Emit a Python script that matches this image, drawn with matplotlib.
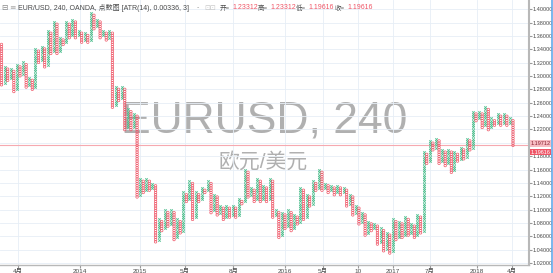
import numpy as np
import matplotlib
matplotlib.use("Agg")
import matplotlib.pyplot as plt
from matplotlib.lines import Line2D

plt.rcParams["font.family"] = ["Liberation Sans", "Noto Sans CJK SC", "DejaVu Sans"]

# 点数图参数: 格值 0.00336, 反转 3 格
box = 0.00336

# 每列的转折价 (交替: 高点 / 低点)
pivots = [
    1.3480, 1.2866, 1.3121, 1.2941, 1.3091, 1.2761, 1.3166, 1.3016, 1.3211, 1.2821,
    1.2971, 1.2791, 1.3390, 1.3196, 1.3435, 1.3121, 1.3660, 1.3345, 1.3810, 1.3345,
    1.3570, 1.3465, 1.3810, 1.3585, 1.3840, 1.3585, 1.3690, 1.3510, 1.3645, 1.3495,
    1.3945, 1.3720, 1.3840, 1.3585, 1.3690, 1.3540, 1.3690, 1.2521, 1.2821, 1.2642,
    1.2821, 1.2192, 1.2491, 1.2192, 1.2417, 1.1173, 1.1472, 1.1263, 1.1443, 1.1293,
    1.1398, 1.0514, 1.0844, 1.0694, 1.0994, 1.0754, 1.0994, 1.0544,
    1.0844, 1.0664, 1.1263, 1.1113, 1.1413, 1.0844, 1.1263, 1.1113,
    1.1338, 1.1248, 1.1413, 1.0964, 1.1218, 1.0919, 1.1068, 1.0844, 1.1068, 1.0874,
    1.1038, 1.0889, 1.1143, 1.1083, 1.1592, 1.1188, 1.1323, 1.1113, 1.1443, 1.1113,
    1.1353, 1.1113, 1.1472, 1.0874, 1.0994, 1.0574, 1.0949, 1.0724, 1.0994, 1.0694,
    1.0904, 1.0769, 1.1338, 1.0844, 1.1218, 1.1038, 1.1413, 1.1293, 1.1592, 1.1293,
    1.1383, 1.1263, 1.1353, 1.1233, 1.1368, 1.1218, 1.1323, 1.1068, 1.1218, 1.0919,
    1.1068, 1.0769, 1.0964, 1.0619, 1.0814, 1.0679, 1.0784, 1.0469, 1.0724, 1.0394,
    1.0664, 1.0364, 1.0844, 1.0544, 1.0814, 1.0574, 1.0874, 1.0619, 1.0769, 1.0574,
    1.0919, 1.0664, 1.1862, 1.1697, 1.2042, 1.1892, 1.2072, 1.1697, 1.1892, 1.1667,
    1.1892, 1.1562, 1.1847, 1.1742, 1.1922, 1.1772, 1.2072, 1.1892, 1.2461, 1.2342,
    1.2461, 1.2222, 1.2536, 1.2192, 1.2372, 1.2267, 1.2417, 1.2267, 1.2447, 1.2267,
    1.2372, 1.1962,
]

last_price = 1.19616
line_price = 1.19712
ohlc_labels = ["开=", "高=", "低=", "收="]
ohlc_values = [1.23312, 1.23312, 1.19616, 1.19616]

y_ticks = np.arange(1.02, 1.4001, 0.02)
x_tick_cols = [5.4, 25.5, 45.0, 59.6, 75.2, 92.0, 104.4, 115.7, 127.0, 139.0, 154.4, 165.7]
x_tick_labels = ["4月", "2014", "2015", "5月", "8月", "2016", "5月", "10", "2017", "7月", "2018", "4月"]

green = "#4fbf8f"
red = "#ef5566"
txt = "#4a4a4a"

W, H = 553, 273
fig = plt.figure(figsize=(W / 100, H / 100), dpi=100)
ax = fig.add_axes([0, 8 / H, 529 / W, 265 / H])

# 把转折价展开成每一格
xs_up, ys_up, xs_dn, ys_dn = [], [], [], []
for i in range(len(pivots) - 1):
    a = int(round(pivots[i] / box))
    b = int(round(pivots[i + 1] / box))
    if b > a:
        start = a + 1 if i > 0 else a
        for k in range(start, b + 1):
            xs_up.append(i)
            ys_up.append(k * box)
    else:
        start = a - 1 if i > 0 else a
        for k in range(b, start + 1):
            xs_dn.append(i)
            ys_dn.append(k * box)

ax.scatter(xs_up, ys_up, marker="x", s=3.2, c=green, linewidths=0.6, zorder=3)
ax.scatter(xs_dn, ys_dn, marker="o", s=3.2, facecolors="none", edgecolors=red,
           linewidths=0.5, zorder=3)

n = len(pivots) - 1
s = 511.5 / (n - 1)
ax.set_xlim(-1.5 / s, (529 - 1.5) / s)
ax.set_ylim(1.01699, 1.41393)

# 网格; 当前价标签盖住的刻度不显示文字
ax.set_yticks(y_ticks)
ax.set_yticklabels(["" if abs(v - line_price) < 0.005 else "%.5f" % v for v in y_ticks])
ax.set_xticks(x_tick_cols)
ax.set_xticklabels(x_tick_labels)
ax.grid(True, color="#e6eef6", linewidth=0.6, zorder=0)
ax.yaxis.tick_right()
ax.tick_params(axis="y", length=1.8, pad=0.8, labelsize=4.0, colors="#999999", labelcolor=txt)
ax.tick_params(axis="x", length=2, pad=1.0, labelsize=4.6, colors="#999999", labelcolor=txt)
for side in ["top", "left"]:
    ax.spines[side].set_visible(False)
ax.spines["right"].set_color("#b8b8b8")
ax.spines["right"].set_linewidth(1.5)
ax.spines["bottom"].set_color("#b8b8b8")
ax.spines["bottom"].set_linewidth(1.0)

# 水印
ax.text(0.5, 0.543, "EURUSD, 240", transform=ax.transAxes, ha="center", va="center",
        fontsize=32, color="#b0b0b0", zorder=1)
ax.text(0.497, 0.391, "欧元/美元", transform=ax.transAxes, ha="center", va="center",
        fontsize=15, color="#b0b0b0", zorder=1)

# 当前价线和标签
ax.axhline(line_price, color="#f6a9b0", linewidth=0.8, zorder=2)
ax.annotate("%.5f" % line_price, xy=(1.0, line_price), xycoords=("axes fraction", "data"),
            xytext=(1.3, 0.8), textcoords="offset points", va="center", ha="left",
            fontsize=4.0, color="#8a2030", annotation_clip=False,
            bbox=dict(boxstyle="square,pad=0.12", fc="#f7bcc2", ec="none"))
ax.annotate("%.5f" % last_price, xy=(1.0, line_price), xycoords=("axes fraction", "data"),
            xytext=(1.3, -5.3), textcoords="offset points", va="center", ha="left",
            fontsize=4.0, color="white", annotation_clip=False,
            bbox=dict(boxstyle="square,pad=0.12", fc="#ef5566", ec="none"))

# 右侧蓝线
fig.add_artist(Line2D([552.3 / W] * 2, [0, 1], transform=fig.transFigure,
                      color="#62aaea", linewidth=1.2))

# 标题栏
ty = 1 - 7.5 / H
fig.text(1.5 / W, ty, "⊟", fontsize=5.5, color="#888888", va="center", family="DejaVu Sans")
fig.text(9 / W, ty, "≡", fontsize=5.5, color="#aaaaaa", va="center", family="DejaVu Sans")
fig.text(18 / W, ty, "EUR/USD, 240, OANDA, 点数图 [ATR(14), 0.00336, 3]", fontsize=5.0,
         color=txt, va="center")
fig.text(197 / W, ty, "-", fontsize=5.0, color="#999999", va="center")
fig.text(204 / W, ty, "⊡⊡", fontsize=5.0, color="#c8c8c8", va="center", family="DejaVu Sans")
label_x = [220, 258, 296, 335]
value_x = [232, 270, 308, 347]
for lx, vx, lab, val in zip(label_x, value_x, ohlc_labels, ohlc_values):
    fig.text(lx / W, ty, lab, fontsize=4.6, color=txt, va="center")
    fig.text(vx / W, ty, "%.5f" % val, fontsize=5.0, color="#ef5566", va="center")

fig.savefig("out.png", dpi=100)
